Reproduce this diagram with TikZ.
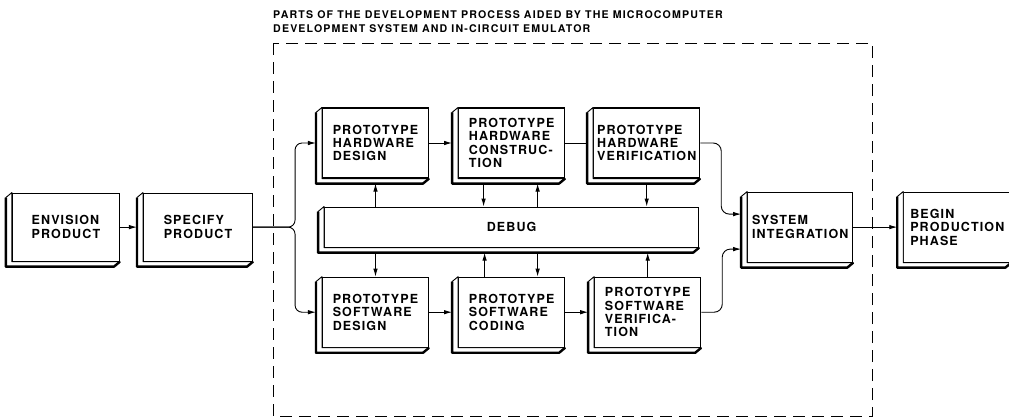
\documentclass[tikz,border=0pt]{standalone}
\usepackage{fontspec}
\setmainfont{TeX Gyre Heros}
\newfontfamily\boxfont[LetterSpace=9]{TeX Gyre Heros}
\newfontfamily\titlefont[LetterSpace=11]{TeX Gyre Heros}
\usetikzlibrary{positioning,arrows.meta}

\begin{document}
\begin{tikzpicture}[x=1pt, y=-1pt,
	block/.style = { rectangle, draw=black, line width=1.1pt, fill=white,
	minimum width=106pt, minimum height=70pt, inner sep=0pt, align=left,
	font=\boxfont\bfseries\fontsize{12.5pt}{13.4pt}\selectfont},
	side/.style = { draw=black, line width=0.9pt, fill=white, line join=round},
	sideedge/.style = { draw=black, line width=2.4pt, line join=round},
	link/.style = { line width=0.9pt},
	arr/.style = { link, -{Latex[length=8pt, width=4.5pt]}} ]

  \useasboundingbox (0,0) rectangle (1009,418);

  % dashed frame and its caption
  \draw [line width=1pt, dash pattern=on 12pt off 7pt] (273,43) rectangle (872,416);
  \node [name=caption, anchor=north west, inner sep=0pt, align=left,
	font=\titlefont\bfseries\fontsize{10.6pt}{14pt}\selectfont] at (273,10)
	{PARTS OF THE DEVELOPMENT PROCESS AIDED BY THE MICROCOMPUTER\\
	 DEVELOPMENT SYSTEM AND IN-CIRCUIT EMULATOR};

  % hardware row
  \node [name=hwdesign, block] at (375.5,143) {PROTOTYPE\\HARDWARE\\DESIGN};
  \node [name=hwconst, block, right=29pt of hwdesign]
	{PROTOTYPE\\HARDWARE\\CONSTRUC-\\TION};
  \node [name=hwverif, block, right=28pt of hwconst]
	{PROTOTYPE\\HARDWARE\\VERIFICATION};
  \node [name=debug, block, minimum width=374pt, minimum height=40pt,
	below=28pt of hwconst] {DEBUG};
  % software row
  \node [name=swcoding, block, below=29pt of debug]
	{PROTOTYPE\\SOFTWARE\\CODING};
  \node [name=swdesign, block, left=29pt of swcoding]
	{PROTOTYPE\\SOFTWARE\\DESIGN};
  \node [name=swverif, block, right=29pt of swcoding]
	{PROTOTYPE\\SOFTWARE\\VERIFICA-\\TION};
  % outside boxes
  \node [name=specify, block, minimum width=109pt, minimum height=68pt,
	left=71pt of debug.west] {SPECIFY\\PRODUCT};
  \node [name=envision, block, minimum width=107pt, minimum height=68pt,
	left=23pt of specify] {ENVISION\\PRODUCT};
  \node [name=sysint, block, minimum width=105pt, right=48pt of debug.east]
	{SYSTEM\\INTEGRATION};
  \node [name=production, block, minimum width=107pt, right=50pt of sysint]
	{BEGIN\\PRODUCTION\\PHASE};

  % left and bottom faces
  \foreach \n in {envision,specify,hwdesign,hwconst,hwverif,debug,
	swdesign,swcoding,swverif,sysint,production} {
    \draw [side] (\n.north west) -- ++(-6,5)
	|- ([shift={(-6pt,-5pt)}]\n.south east) -- (\n.south east)
	-- (\n.south west) -- cycle;
    \draw [sideedge] (\n.north west) ++(-6,5)
	|- ([shift={(-6pt,-5pt)}]\n.south east) -- (\n.south east);
  }

  % flow
  \draw [arr] (envision.east) -- ([xshift=-6pt]specify.west);
  \coordinate [right=42pt of specify.east] (fork);
  \draw [arr, rounded corners=7pt] (specify.east) -- (fork)
	|- ([xshift=-6pt]hwdesign.west);
  \draw [arr, rounded corners=7pt] (specify.east) -- (fork)
	|- ([xshift=-6pt]swdesign.west);
  \draw [arr] (hwdesign.east) -- ([xshift=-6pt]hwconst.west);
  \draw [link] (hwconst.east) -- ([xshift=-6pt]hwverif.west);
  \draw [arr] (swdesign.east) -- ([xshift=-6pt]swcoding.west);
  \draw [arr] (swcoding.east) -- ([xshift=-6pt]swverif.west);
  \draw [arr, rounded corners=8pt] (hwverif.east) -- ++(21,0)
	|- ([xshift=-6pt, yshift=13pt]sysint.west);
  \draw [arr, rounded corners=8pt] (swverif.east) -- ++(21,0)
	|- ([xshift=-6pt, yshift=-22pt]sysint.west);
  \draw [arr] (sysint.east) -- ([xshift=-6pt]production.west);

  % debug links
  \draw [arr] (debug.north -| hwdesign) -- ([yshift=-5pt]hwdesign.south);
  \draw [arr] ([xshift=-28pt, yshift=-5pt]hwconst.south)
	-- ([xshift=-28pt]hwconst.south |- debug.north);
  \draw [arr] ([xshift=26pt]hwconst.south |- debug.north)
	-- ([xshift=26pt, yshift=-5pt]hwconst.south);
  \draw [arr] ([yshift=-5pt]hwverif.south) -- (debug.north -| hwverif);
  \draw [arr] ([yshift=-5pt]debug.south -| swdesign) -- (swdesign.north);
  \draw [arr] ([xshift=-27pt]swcoding.north)
	-- ([xshift=-27pt, yshift=-5pt]swcoding.north |- debug.south);
  \draw [arr] ([xshift=26pt, yshift=-5pt]swcoding.north |- debug.south)
	-- ([xshift=26pt]swcoding.north);
  \draw [arr] (swverif.north) -- ([yshift=-5pt]debug.south -| swverif);
\end{tikzpicture}
\end{document}
